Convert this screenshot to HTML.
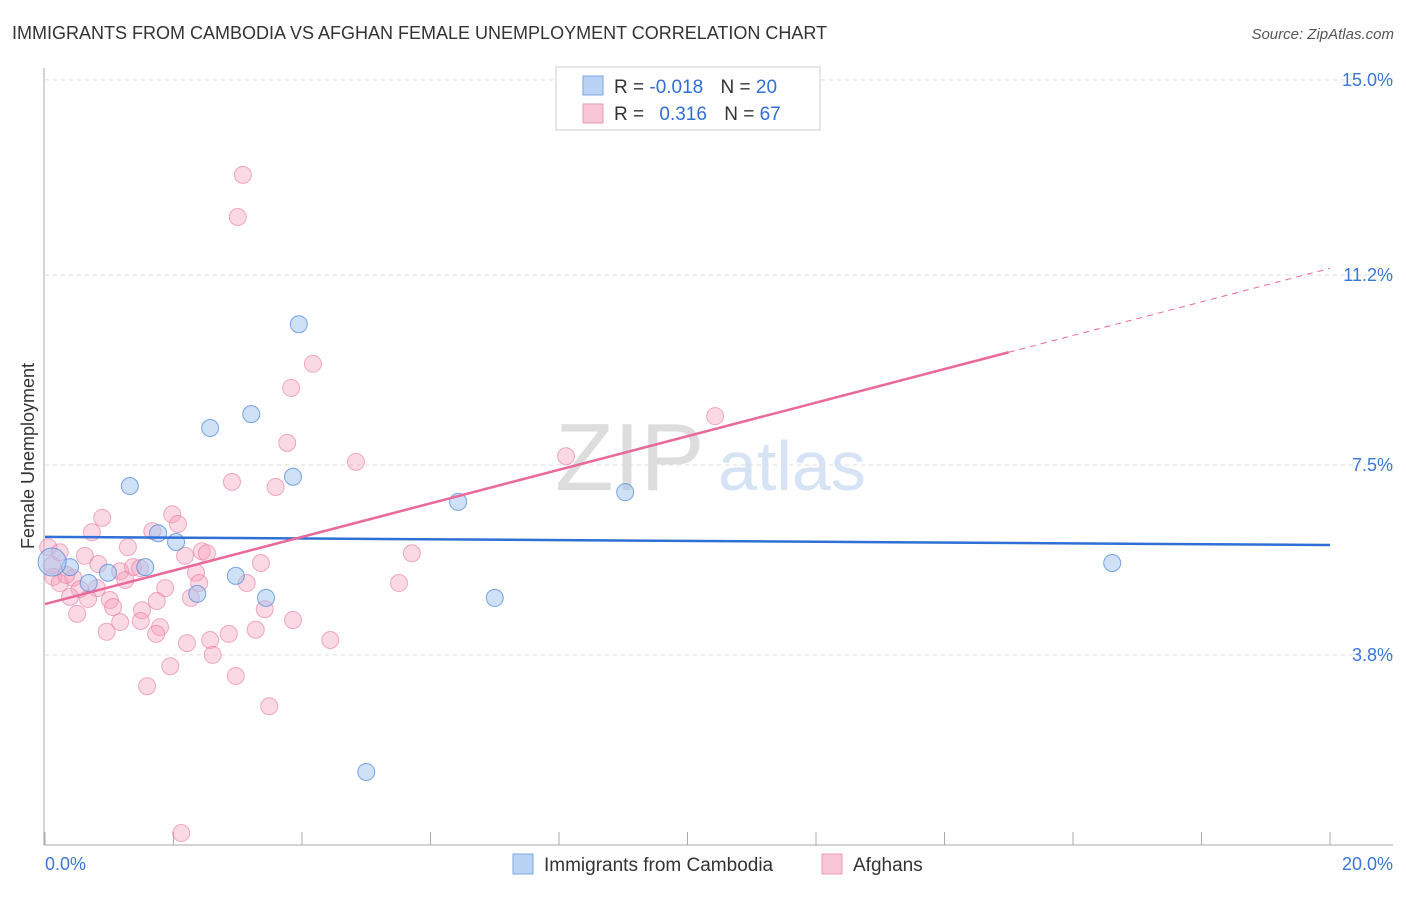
<!DOCTYPE html>
<html><head><meta charset="utf-8"><style>
body{margin:0;background:#fff;font-family:"Liberation Sans",sans-serif;}
svg text{font-family:"Liberation Sans",sans-serif;}
</style></head><body>
<svg id="c" width="1406" height="892">
<text x="12" y="39" font-size="18" fill="#333">IMMIGRANTS FROM CAMBODIA VS AFGHAN FEMALE UNEMPLOYMENT CORRELATION CHART</text>
<text x="1394" y="39" font-size="15" fill="#555" text-anchor="end" font-style="italic">Source: ZipAtlas.com</text>
<text x="555" y="490" font-size="96" fill="#ddd" font-family="Liberation Serif,serif">ZIP</text>
<text x="718" y="490" font-size="70" fill="#d5e3f5">atlas</text>
<text transform="translate(34,456) rotate(-90)" font-size="18" fill="#333" text-anchor="middle">Female Unemployment</text>
<g id="grid"></g><g id="pts"></g><g id="lines"></g>
<g>
<rect x="556" y="67" width="264" height="63" fill="#fff" stroke="#ccc"/>
<rect x="583" y="76" width="20" height="19" fill="#b9d3f5" stroke="#7aa7e0"/>
<rect x="583" y="104" width="20" height="19" fill="#f8c6d6" stroke="#ec9ab5"/>
<text x="614" y="93" font-size="19" fill="#333">R = <tspan fill="#2f6fd6">-0.018</tspan>   <tspan dx="12">N = </tspan><tspan fill="#2f6fd6">20</tspan></text>
<text x="614" y="120" font-size="19" fill="#333">R = <tspan fill="#2f6fd6" dx="10">0.316</tspan>   <tspan dx="12">N = </tspan><tspan fill="#2f6fd6">67</tspan></text>
</g>
<g>
<rect x="513" y="854" width="20" height="20" fill="#b9d3f5" stroke="#7aa7e0"/>
<text x="544" y="871" font-size="19" fill="#333">Immigrants from Cambodia</text>
<rect x="822" y="854" width="20" height="20" fill="#f8c6d6" stroke="#ec9ab5"/>
<text x="853" y="871" font-size="19" fill="#333">Afghans</text>
</g>
</svg>
<script>
const yTicks=[15.0,11.2,7.5,3.8];
const yTickLabels=["15.0%","11.2%","7.5%","3.8%"];
const xTickLabels=["0.0%","20.0%"];
const blueX=[3.95,3.21,2.57,3.86,1.32,6.43,9.03,1.76,2.04,1.56,0.98,0.39,0.68,2.97,2.37,3.44,7.0,16.61,5.0,0.11];
const blueY=[10.24,8.49,8.22,7.27,7.09,6.78,6.97,6.17,6.0,5.51,5.40,5.51,5.20,5.34,4.99,4.91,4.91,5.59,1.52,5.61];
const pinkX=[3.08,3.0,4.17,3.83,10.43,3.77,4.84,8.11,2.91,3.59,0.89,0.73,1.67,1.98,2.07,1.29,0.05,0.62,0.83,2.18,2.44,2.52,3.36,5.71,1.17,1.37,1.25,0.13,0.23,0.44,0.54,0.81,1.87,2.35,2.40,3.14,5.51,0.39,0.67,1.01,1.74,2.27,1.06,1.51,3.42,0.50,1.17,1.49,1.79,3.86,0.96,1.73,2.86,3.28,2.57,2.21,4.44,2.61,1.95,2.97,1.59,3.49,2.12,0.11,0.23,0.33,1.48];
const pinkY=[13.15,12.33,9.47,9.0,8.45,7.93,7.56,7.67,7.17,7.07,6.47,6.19,6.21,6.54,6.35,5.90,5.90,5.73,5.57,5.73,5.82,5.78,5.59,5.78,5.43,5.51,5.26,5.32,5.20,5.30,5.08,5.10,5.10,5.40,5.20,5.20,5.20,4.93,4.89,4.87,4.85,4.91,4.73,4.67,4.69,4.60,4.44,4.46,4.34,4.48,4.25,4.21,4.21,4.29,4.09,4.03,4.09,3.80,3.58,3.39,3.19,2.80,0.33,5.55,5.8,5.36,5.49];
const blueTrend=[6.10,5.94];
const pinkTrend=[4.79,11.33];
const NS="http://www.w3.org/2000/svg";
const X=v=>45+v*64.25, Y=v=>850-v*51.34;
function mk(t,a,p){const e=document.createElementNS(NS,t);for(const k in a)e.setAttribute(k,a[k]);document.getElementById(p).appendChild(e);return e;}
yTicks.forEach((t,i)=>{
 const l=mk('line',{x1:45,x2:1393,y1:Y(t),y2:Y(t),stroke:'#ddd','stroke-dasharray':'4,4'},'grid');
 
 
 const tx=mk('text',{x:1393,y:Y(t)+6,'font-size':18,fill:'#3b76d8','text-anchor':'end'},'grid');
 tx.textContent=yTickLabels[i];
 
 
});
mk('line',{x1:44,x2:44,y1:68,y2:845,stroke:'#aaa'},'grid');
mk('line',{x1:44,x2:1393,y1:845,y2:845,stroke:'#aaa'},'grid');
for(let i=0;i<=10;i++){const t=mk('line',{x1:X(i*2),x2:X(i*2),y1:832,y2:845,stroke:'#aaa'},'grid');
 
 }
xTickLabels.forEach((s,i)=>{const t=mk('text',{x:i?1393:45,y:870,'font-size':18,fill:'#3b76d8','text-anchor':i?'end':'start'},'grid');t.textContent=s;
 
 });
pinkX.forEach((v,i)=>{const c=mk('circle',{cx:X(v),cy:Y(pinkY[i]),r:8.5,fill:'rgba(244,160,188,0.4)',stroke:'rgba(232,120,160,0.6)'},'pts');
 
 });
blueX.forEach((v,i)=>{const c=mk('circle',{cx:X(v),cy:Y(blueY[i]),r:i==19?14:8.5,fill:'rgba(160,195,240,0.5)',stroke:'rgba(70,130,215,0.7)'},'pts');
 
 });
const bl=mk('line',{x1:X(0),x2:X(20),y1:Y(blueTrend[0]),y2:Y(blueTrend[1]),stroke:'#2f6fd6','stroke-width':2.5},'lines');


const pm=v=>pinkTrend[0]+(pinkTrend[1]-pinkTrend[0])*v/20;
const pl=mk('line',{x1:X(0),x2:X(15),y1:Y(pm(0)),y2:Y(pm(15)),stroke:'#e8699a','stroke-width':2.5},'lines');


const pd=mk('line',{x1:X(15),x2:X(20),y1:Y(pm(15)),y2:Y(pm(20)),stroke:'#e8699a','stroke-width':1,'stroke-dasharray':'6,5'},'lines');


</script>
</body></html>
